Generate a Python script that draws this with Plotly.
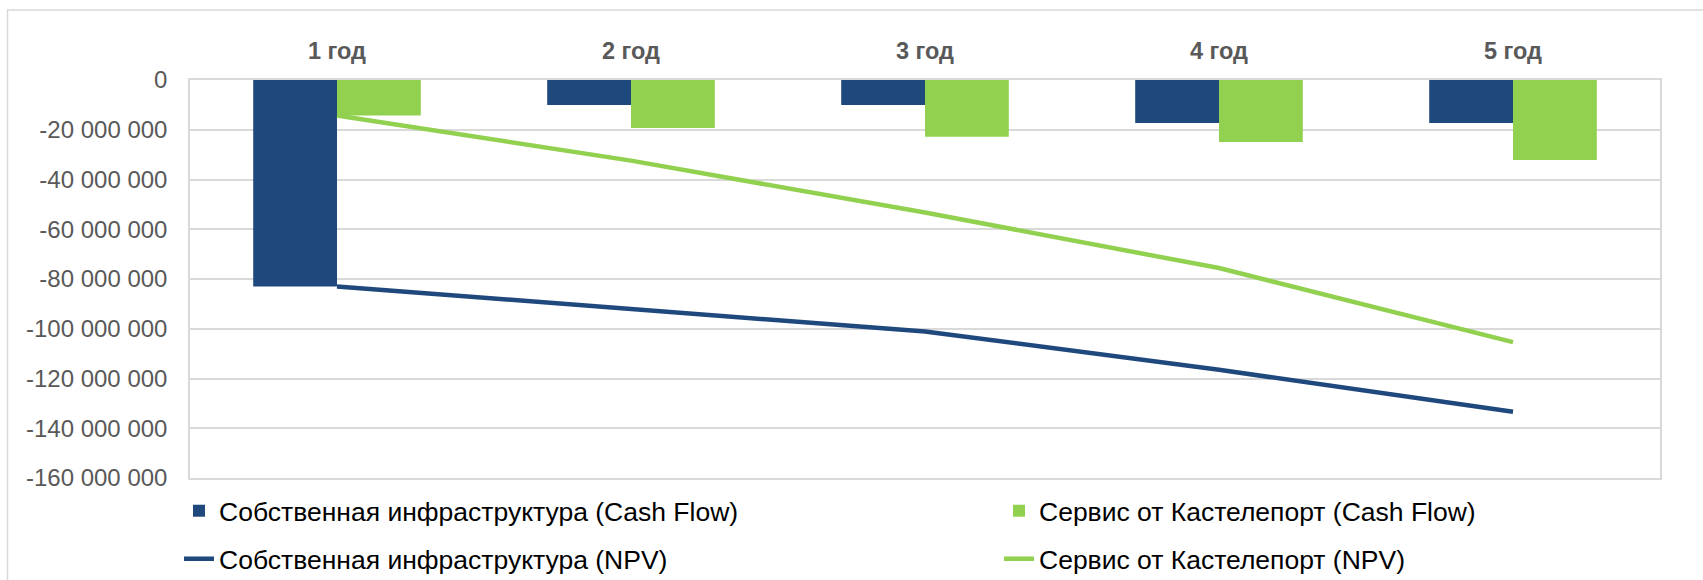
import plotly.graph_objects as go

categories = ["1 год", "2 год", "3 год", "4 год", "5 год"]
own_cf = [-83.0e6, -10.0e6, -10.0e6, -17.3e6, -17.3e6]
kaz_cf = [-14.3e6, -19.3e6, -22.8e6, -24.9e6, -32.2e6]
own_npv = [-83.0e6, -92.2e6, -101.1e6, -116.5e6, -133.4e6]
kaz_npv = [-14.3e6, -32.4e6, -53.3e6, -75.6e6, -105.4e6]

y_tickvals = [0, -20e6, -40e6, -60e6, -80e6, -100e6, -120e6, -140e6, -160e6]
y_ticktext = ["0", "-20 000 000", "-40 000 000", "-60 000 000", "-80 000 000",
              "-100 000 000", "-120 000 000", "-140 000 000", "-160 000 000"]

names = ["Собственная инфраструктура (Cash Flow)", "Сервис от Кастелепорт (Cash Flow)",
         "Собственная инфраструктура (NPV)", "Сервис от Кастелепорт (NPV)"]

DARK = "#1F497D"
GREEN = "#92D050"
FONT = "Liberation Sans, Arial, sans-serif"

fig = go.Figure()
fig.add_trace(go.Bar(x=categories, y=own_cf, name=names[0], marker=dict(color=DARK, line=dict(width=0)),
                     legend="legend"))
fig.add_trace(go.Bar(x=categories, y=kaz_cf, name=names[1], marker=dict(color=GREEN, line=dict(width=0)),
                     legend="legend2"))
fig.add_trace(go.Scatter(x=categories, y=own_npv, name=names[2], mode="lines",
                         line=dict(color=DARK, width=4.5), legend="legend3"))
fig.add_trace(go.Scatter(x=categories, y=kaz_npv, name=names[3], mode="lines",
                         line=dict(color=GREEN, width=4.5), legend="legend4"))

# plot area: x 190..1660, y 80..478 (px)
L, R, T, B = 190, 43, 80, 102
W, H = 1703, 580
pw, ph = W - L - R, H - T - B

def px_to_paper_x(px):
    return (px - L) / pw

def px_to_paper_y(py):
    return (H - B - py) / ph

def legend_at(px, py):
    return dict(
        orientation="h", xanchor="left", yanchor="middle",
        x=px_to_paper_x(px), y=px_to_paper_y(py),
        font=dict(family=FONT, size=26.5, color="#000000"),
        bgcolor="rgba(0,0,0,0)", borderwidth=0,
    )

fig.update_layout(
    width=W, height=H,
    margin=dict(l=L, r=R, t=T, b=B, autoexpand=False),
    paper_bgcolor="white", plot_bgcolor="white",
    barmode="group", bargap=0.43, bargroupgap=0,
    font=dict(family=FONT, color="#595959"),
    showlegend=True,
    legend=legend_at(179, 511),
    legend2=legend_at(999, 511),
    legend3=legend_at(179, 559),
    legend4=legend_at(999, 559),
    xaxis=dict(
        side="top", type="category",
        tickfont=dict(family=FONT, size=23.5, color="#595959", weight="bold"),
        showgrid=False, showline=True, linecolor="#D9D9D9", linewidth=1.5, mirror=True,
        ticks="", ticklabelstandoff=10,
    ),
    yaxis=dict(
        range=[-160e6, 0], tickvals=y_tickvals, ticktext=y_ticktext,
        tickfont=dict(family=FONT, size=24, color="#595959"),
        showgrid=True, gridcolor="#D9D9D9", gridwidth=1.5,
        showline=True, linecolor="#D9D9D9", linewidth=1.5, mirror=True,
        zeroline=False, ticks="", ticklabelstandoff=16,
    ),
    shapes=[dict(type="rect", xref="paper", yref="paper",
                 x0=px_to_paper_x(7.5), x1=px_to_paper_x(1730),
                 y0=px_to_paper_y(620), y1=px_to_paper_y(10),
                 line=dict(color="#D9D9D9", width=1.5), fillcolor="rgba(0,0,0,0)", layer="below")],
)

fig.write_html("out.html", config={"displayModeBar": False},
               post_script="document.body.style.margin='0';")
